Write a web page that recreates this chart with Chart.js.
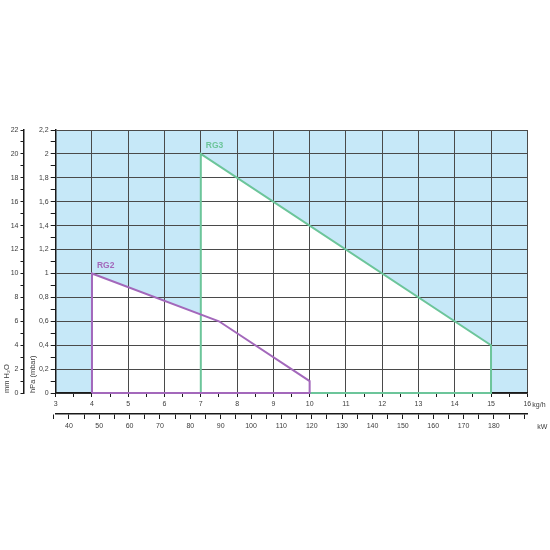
<!DOCTYPE html>
<html><head><meta charset="utf-8">
<script src="https://cdn.jsdelivr.net/npm/chart.js@4.4.1/dist/chart.umd.min.js"></script>
<style>html,body{margin:0;padding:0;background:#fff}</style>
</head><body>
<canvas id="c" width="550" height="550"></canvas>
<script>
// ---- data ----
const kgLabels = [3,4,5,6,7,8,9,10,11,12,13,14,15,16];
const kWLabels = [40,50,60,70,80,90,100,110,120,130,140,150,160,170,180];
const hPaLabels = ['0','0,2','0,4','0,6','0,8','1','1,2','1,4','1,6','1,8','2','2,2'];
const mmLabels = [0,2,4,6,8,10,12,14,16,18,20,22];
const seriesNames = ['RG2', 'RG3'];
const rg2X = [4, 4, 7.5, 10, 10];
const rg2Y = [0, 1, 0.6, 0.1, 0];
const rg3X = [7, 7, 15, 15];
const rg3Y = [0, 2, 0.4, 0];
const kWperKg = 11.95;   // ratio between the two bottom scales
const kWoffset = -0.2;

const FONT = "'Liberation Sans', 'DejaVu Sans', sans-serif";
const BLUE = '#c6e8f8', GREEN = '#6cc59a', PURPLE = '#a368bb';
const GRID = '#4a4a4a', AXIS = '#1a1a1a', TXT = '#3c3c3c';

const xMin = kgLabels[0], xMax = kgLabels[kgLabels.length - 1];
const polygon = (xs, ys) => xs.map((x, i) => ({x, y: ys[i]})).concat([{x: xs[0], y: ys[0]}]);
function interp(xs, ys, x) {
  for (let i = 0; i < xs.length - 1; i++) {
    if (xs[i] !== xs[i+1] && x >= Math.min(xs[i], xs[i+1]) && x <= Math.max(xs[i], xs[i+1])) {
      return ys[i] + (ys[i+1] - ys[i]) * (x - xs[i]) / (xs[i+1] - xs[i]);
    }
  }
  return 0;
}
// upper envelope of the two regions (blue area lies above it)
const cut = rg3X[0];
const envelope = [{x: xMin, y: 0}];
rg2X.forEach((x, i) => { if (x < cut) envelope.push({x, y: rg2Y[i]}); });
envelope.push({x: cut, y: interp(rg2X, rg2Y, cut)});
rg3X.forEach((x, i) => { if (i > 0) envelope.push({x, y: rg3Y[i]}); });
envelope.push({x: xMax, y: 0});

Chart.defaults.font.family = FONT;
Chart.defaults.font.size = 7;
Chart.defaults.color = TXT;

function setTicks(values) { return scale => { scale.ticks = values.map(v => ({value: v})); }; }
const range = (a, b, s) => { const r = []; for (let i = 0; a + i * s <= b + 1e-9; i++) r.push(+(a + i * s).toFixed(4)); return r; };

const kgTickVals = range(xMin, xMax, 0.5);
const hPaTickVals = range(0, 2.2, 0.1);
const mmTickVals = range(0, 22, 1);
const kWTickVals = range(35, 190, 5);

const isInt = v => Math.abs(v - Math.round(v)) < 1e-6;
const isEvenTenth = v => Math.round(v * 10) % 2 === 0;

const extraText = {
  id: 'extraText',
  afterDraw(chart) {
    const ctx = chart.ctx, x = chart.scales.x, x2 = chart.scales.x2;
    ctx.save();
    ctx.fillStyle = TXT;
    ctx.font = '7px ' + FONT;
    ctx.textAlign = 'left';
    ctx.textBaseline = 'middle';
    ctx.fillText('kg/h', x.getPixelForValue(xMax) + 5, x.top + 12.5);
    ctx.fillText('kW', x.getPixelForValue(xMax) + 10, x2.top + 13);
    // series names at the top corner of each region
    ctx.font = 'bold 8.5px ' + FONT;
    [0, 1].forEach(di => {
      const meta = chart.getDatasetMeta(di);
      const ds = chart.data.datasets[di];
      let best = null;
      meta.data.forEach(p => { if (!best || p.y < best.y) best = p; });
      ctx.fillStyle = ds.borderColor;
      ctx.fillText(seriesNames[di], best.x + 5, best.y - 8);
    });
    ctx.restore();
  }
};

new Chart(document.getElementById('c'), {
  type: 'line',
  data: {
    datasets: [
      { label: seriesNames[0], data: polygon(rg2X, rg2Y), borderColor: PURPLE, borderWidth: 2,
        pointRadius: 0, fill: false, clip: false, tension: 0 },
      { label: seriesNames[1], data: polygon(rg3X, rg3Y), borderColor: GREEN, borderWidth: 2,
        pointRadius: 0, fill: false, clip: false, tension: 0 },
      { label: 'envelope', data: envelope, borderColor: 'transparent', borderWidth: 0,
        backgroundColor: BLUE, pointRadius: 0, fill: 'end', tension: 0 }
    ]
  },
  options: {
    responsive: false,
    animation: false,
    parsing: true,
    layout: { padding: { left: 0, top: 130, right: 22.7, bottom: 106 } },
    plugins: {
      legend: { display: false },
      tooltip: { enabled: false },
      filler: { drawTime: 'beforeDraw' }
    },
    scales: {
      x: {
        type: 'linear', position: 'bottom', weight: 0, min: xMin, max: xMax,
        afterBuildTicks: setTicks(kgTickVals),
        afterFit: s => { s.height = 21; },
        ticks: { autoSkip: false, maxRotation: 0, padding: 3,
          callback: v => isInt(v) ? String(kgLabels[kgLabels.indexOf(Math.round(v))]) : '' },
        grid: { color: c => isInt(c.tick.value) ? GRID : 'transparent', tickColor: AXIS, tickLength: 4, lineWidth: 1 },
        border: { color: AXIS, width: 1.5 }
      },
      x2: {
        type: 'linear', axis: 'x', position: 'bottom', weight: 10,
        min: xMin * kWperKg + kWoffset, max: xMax * kWperKg + kWoffset,
        afterBuildTicks: setTicks(kWTickVals),
        afterFit: s => { s.height = 30; },
        ticks: { autoSkip: false, maxRotation: 0, padding: 3,
          callback: v => kWLabels.includes(v) ? String(v) : '' },
        grid: { drawOnChartArea: false, tickColor: AXIS, tickLength: 5 },
        border: { color: AXIS, width: 1.5 }
      },
      y: {
        type: 'linear', position: 'left', weight: 0, min: 0, max: 2.2,
        afterBuildTicks: setTicks(hPaTickVals),
        afterFit: s => { s.width = 31.7; },
        ticks: { autoSkip: false, padding: 2,
          callback: v => isEvenTenth(v) ? hPaLabels[Math.round(v * 10) / 2] : '' },
        grid: { color: c => isEvenTenth(c.tick.value) ? GRID : 'transparent', tickColor: AXIS, tickLength: 5, lineWidth: 1 },
        border: { color: AXIS, width: 1.5 },
        title: { display: true, text: 'hPa (mbar)', align: 'start', font: { size: 7.5 }, padding: { top: 4.5, bottom: 0 } }
      },
      ymm: {
        type: 'linear', axis: 'y', position: 'left', weight: 10, min: 0, max: 22,
        afterBuildTicks: setTicks(mmTickVals),
        afterFit: s => { s.width = 24; },
        ticks: { autoSkip: false, padding: 2,
          callback: v => (isInt(v) && Math.round(v) % 2 === 0) ? String(mmLabels[Math.round(v) / 2]) : '' },
        grid: { drawOnChartArea: false, tickColor: AXIS, tickLength: 3.5 },
        border: { color: AXIS, width: 1.5 },
        title: { display: true, text: 'mm H₂O', align: 'start', font: { size: 7.5 }, padding: { top: 2, bottom: 0 } }
      }
    }
  },
  plugins: [extraText]
});
</script>
</body></html>
